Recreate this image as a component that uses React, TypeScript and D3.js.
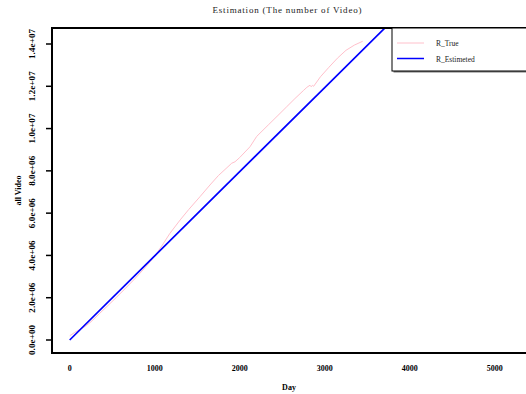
import React from "react";
import * as d3 from "d3";

// observed counts (R_True), day -> value
const trueDays = [
  0, 60, 120, 180, 250, 350, 450, 550, 650, 750, 850, 950, 1024, 1100, 1180,
  1300, 1400, 1533, 1650, 1750, 1850, 1906, 1945, 2000, 2121, 2200, 2336, 2450,
  2550, 2650, 2750, 2790, 2827, 2840, 2855, 2870, 2950, 3050, 3150, 3250, 3350,
  3447,
];
const trueValues = [
  0.2e6, 0.36e6, 0.5e6, 0.64e6, 0.86e6, 1.25e6, 1.63e6, 2.02e6, 2.42e6, 2.83e6,
  3.26e6, 3.72e6, 4.1e6, 4.55e6, 5.05e6, 5.68e6, 6.17e6, 6.78e6, 7.33e6, 7.78e6,
  8.15e6, 8.36e6, 8.43e6, 8.63e6, 9.14e6, 9.63e6, 10.17e6, 10.62e6, 11.02e6,
  11.42e6, 11.8e6, 11.95e6, 12.05e6, 11.98e6, 12.04e6, 12.0e6, 12.45e6, 12.9e6,
  13.33e6, 13.7e6, 13.95e6, 14.13e6,
];

// fitted line (R_Estimeted)
const estDays = [0, 1000, 2000, 3000, 4000];
const estValues = [0, 3.98e6, 7.96e6, 11.94e6, 15.92e6];

const xTicks = [0, 1000, 2000, 3000, 4000, 5000];
const yTicks = [0, 2e6, 4e6, 6e6, 8e6, 1e7, 1.2e7, 1.4e7];
const yTickLabels = [
  "0.0e+00", "2.0e+06", "4.0e+06", "6.0e+06", "8.0e+06", "1.0e+07", "1.2e+07", "1.4e+07",
];
const legendLabels = ["R_True", "R_Estimeted"];
const legendColors = ["#ffc0cb", "#0000ff"];

const W = 526;
const H = 394;
const box = { left: 52, top: 28, right: 545, bottom: 353 };
const font = "'Liberation Serif', serif";

export default function App() {
  const x = d3.scaleLinear().domain([0, 5000]).range([69.7, 494.7]);
  const y = d3.scaleLinear().domain([0, 1.4e7]).range([340, 44]);

  const line = d3
    .line<[number, number]>()
    .x((d) => x(d[0]))
    .y((d) => y(d[1]));

  const truePts = trueDays.map((d, i) => [d, trueValues[i]] as [number, number]);
  const estPts = estDays.map((d, i) => [d, estValues[i]] as [number, number]);

  const legX = 392;
  const legY = 28;

  return (
    <svg
      width={W}
      height={H}
      style={{ position: "absolute", left: 0, top: 0, background: "#fff" }}
    >
      <defs>
        <clipPath id="plot">
          <rect
            x={box.left}
            y={box.top}
            width={box.right - box.left}
            height={box.bottom - box.top}
          />
        </clipPath>
      </defs>
      <rect width={W} height={H} fill="#fff" />

      <text
        x={287}
        y={13}
        textAnchor="middle"
        fontFamily={font}
        fontSize={9}
        textLength={149}
        fill="#222"
      >
        Estimation (The number of Video)
      </text>

      <g clipPath="url(#plot)">
        <path d={line(truePts) || ""} fill="none" stroke="#ffc0cb" strokeWidth={1} />
        <path d={line(estPts) || ""} fill="none" stroke="#0000ff" strokeWidth={1.7} />
      </g>

      {/* plot frame */}
      <path
        d={`M${box.right},${box.top}H${box.left}V${box.bottom}H${box.right}`}
        fill="none"
        stroke="#000"
        strokeWidth={2}
      />

      {/* y axis */}
      {yTicks.map((t, i) => (
        <g key={t}>
          <line x1={46} x2={box.left} y1={y(t)} y2={y(t)} stroke="#000" strokeWidth={1.5} />
          <text
            transform={`translate(35,${y(t)}) rotate(-90)`}
            textAnchor="middle"
            fontFamily={font}
            fontWeight="bold"
            fontSize={9}
            textLength={30}
          >
            {yTickLabels[i]}
          </text>
        </g>
      ))}
      <text
        transform={`translate(21,${(box.top + box.bottom) / 2}) rotate(-90)`}
        textAnchor="middle"
        fontFamily={font}
        fontWeight="bold"
        fontSize={8}
      >
        all Video
      </text>

      {/* x axis */}
      {xTicks.map((t) => (
        <text
          key={t}
          x={x(t)}
          y={371}
          textAnchor="middle"
          fontFamily={font}
          fontWeight="bold"
          fontSize={8}
          fill="#000"
        >
          {t}
        </text>
      ))}
      <text
        x={289}
        y={390}
        textAnchor="middle"
        fontFamily={font}
        fontWeight="bold"
        fontSize={8}
      >
        Day
      </text>

      {/* legend */}
      <rect x={legX + 1.5} y={legY + 1.5} width={160} height={43} fill="#777" />
      <rect x={legX} y={legY} width={160} height={43} fill="#fff" stroke="#000" strokeWidth={1} />
      {legendLabels.map((l, i) => (
        <g key={l}>
          <line
            x1={legX + 5}
            x2={legX + 32}
            y1={legY + 15 + i * 15.5}
            y2={legY + 15 + i * 15.5}
            stroke={legendColors[i]}
            strokeWidth={i === 0 ? 1 : 1.5}
          />
          <text
            x={legX + 44}
            y={legY + 18 + i * 15.5}
            fontFamily={font}
            fontSize={7.5}
            fill="#222"
          >
            {l}
          </text>
        </g>
      ))}
    </svg>
  );
}
